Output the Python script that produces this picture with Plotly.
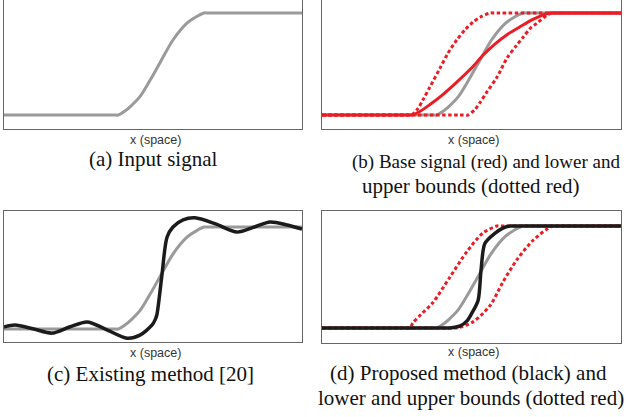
import plotly.graph_objects as go

W, H = 626, 417

# ---- data (x in % of panel width, y normalized: 0 = low level, 1 = high level) ----
input_x = [0, 20, 37, 38.3, 40.6, 42.3, 45.6, 49.0, 52.3, 56.7, 61.4, 64.4, 67.1, 68.5, 85, 100]
input_y = [0, 0, 0, 0.0, 0.04, 0.08, 0.18, 0.34, 0.51, 0.735, 0.90, 0.96, 1.0, 1.0, 1.0, 1.0]

base_x = [0, 15, 29, 30, 33, 36, 40, 45, 50, 54, 58, 62, 66, 70, 73, 76, 77.5, 90, 100]
base_y = [0, 0, 0, 0, 0.04, 0.10, 0.19, 0.32, 0.46, 0.59, 0.70, 0.79, 0.86, 0.93, 0.97, 1.0, 1.0, 1.0, 1.0]

b_lower_x = [0, 15, 29, 30, 32, 33.8, 36, 39.5, 42, 45.2, 48, 50.5, 53, 56.2, 57.5, 80, 100]
b_lower_y = [0, 0, 0, 0, 0.06, 0.15, 0.27, 0.46, 0.60, 0.74, 0.84, 0.91, 0.96, 1.0, 1.0, 1.0, 1.0]

b_upper_x = [0, 25, 47.5, 48.8, 51, 52.8, 55, 58.5, 61.9, 65, 67.2, 70, 71.9, 75.3, 77, 78.5, 90, 100]
b_upper_y = [0, 0, 0, 0, 0.05, 0.12, 0.22, 0.37, 0.56, 0.68, 0.76, 0.86, 0.90, 0.98, 1.0, 1.0, 1.0, 1.0]

existing_x = [0, 3.7, 10, 16.1, 22, 27.9, 34, 41.3, 45.6, 49.7, 50.7, 51.3, 53.0, 54.7,
              56.7, 60.1, 64.1, 71, 78.2, 84, 89.3, 95, 100]
existing_y = [0.02, 0.04, 0.0, -0.04, 0.02, 0.07, 0.0, -0.09, -0.06, 0.04, 0.09, 0.14, 0.53, 0.90,
              1.0, 1.07, 1.09, 1.03, 0.95, 1.0, 1.05, 1.02, 0.98]

d_lower_x = [0, 15, 28.2, 29.4, 30.4, 33, 37.1, 42.8, 48.5, 53.8, 58.5, 60, 80, 100]
d_lower_y = [0, 0, 0, 0, 0.05, 0.13, 0.25, 0.50, 0.75, 0.93, 1.0, 1.0, 1.0, 1.0]

d_upper_x = [0, 25, 44, 45.2, 50.5, 56.2, 60.5, 65.2, 70.6, 75.3, 77.3, 78.8, 90, 100]
d_upper_y = [0, 0, 0, 0, 0.06, 0.22, 0.45, 0.67, 0.86, 0.97, 1.0, 1.0, 1.0, 1.0]

proposed_x = [0, 20, 41.5, 42.8, 46.2, 48.5, 50.2, 52.2, 53.2, 54.5, 57.9, 60.5, 62.9, 64.5, 80, 100]
proposed_y = [0, 0, 0, 0, 0.02, 0.07, 0.15, 0.27, 0.57, 0.83, 0.93, 0.98, 1.0, 1.0, 1.0, 1.0]

axis_label = "x (space)"
captions = {
    "a": ["(a) Input signal"],
    "b": ["(b) Base signal (red) and lower and", "upper bounds (dotted red)"],
    "c": ["(c) Existing method [20]"],
    "d": ["(d) Proposed method (black) and", "lower and upper bounds (dotted red)"],
}

# ---- styles ----
GRAY = "#9a9a9a"
RED = "#ec1c24"
BLACK = "#1b1b1b"
BOX = "#666666"

def px_x(p):
    return p / W

def px_y(p):
    return 1 - p / H

# panel boxes in pixels: (left, right, top, bottom, yrange, draw top line)
panels = {
    "a": (4, 302, 0, 129, [-0.137, 1.127], False),
    "b": (322, 621, 0, 129, [-0.137, 1.127], False),
    "c": (4, 302, 211, 342, [-0.127, 1.157], True),
    "d": (322, 621, 211, 343, [-0.147, 1.147], True),
}

fig = go.Figure()
layout = dict(width=W, height=H, margin=dict(l=0, r=0, t=0, b=0),
              paper_bgcolor="white", plot_bgcolor="white", showlegend=False)

for i, (k, (l, r, t, b, yr, top)) in enumerate(panels.items(), start=1):
    xa = "xaxis" if i == 1 else f"xaxis{i}"
    ya = "yaxis" if i == 1 else f"yaxis{i}"
    layout[xa] = dict(domain=[px_x(l), px_x(r)], range=[0, 100], showgrid=False,
                      zeroline=False, showticklabels=False, ticks="", showline=True,
                      linecolor=BOX, linewidth=1, mirror=top,
                      anchor=f"y{i if i > 1 else ''}")
    layout[ya] = dict(domain=[px_y(b), min(1, px_y(t))], range=yr, showgrid=False,
                      zeroline=False, showticklabels=False, ticks="", showline=True,
                      linecolor=BOX, linewidth=1, mirror=True,
                      anchor=f"x{i if i > 1 else ''}")

def add(xs, ys, color, width, idx, dash="solid"):
    sfx = "" if idx == 1 else str(idx)
    fig.add_trace(go.Scatter(x=xs, y=ys, mode="lines",
                             line=dict(color=color, width=width, dash=dash,
                                       shape="spline", smoothing=0.8),
                             xaxis="x" + sfx, yaxis="y" + sfx, hoverinfo="skip"))

DOT = "3.5px,2.5px"
# (a)
add(input_x, input_y, GRAY, 3, 1)
# (b)
add(input_x, input_y, GRAY, 3, 2)
add(b_lower_x, b_lower_y, RED, 3, 2, DOT)
add(b_upper_x, b_upper_y, RED, 3, 2, DOT)
add(base_x, base_y, RED, 3, 2)
# (c)
add(input_x, input_y, GRAY, 3, 3)
add(existing_x, existing_y, BLACK, 3.5, 3)
# (d)
add(input_x, input_y, GRAY, 3, 4)
add(d_lower_x, d_lower_y, RED, 3, 4, DOT)
add(d_upper_x, d_upper_y, RED, 3, 4, DOT)
add(proposed_x, proposed_y, BLACK, 3.5, 4)

ann = []
label_pos = {"a": (155, 140), "b": (473, 140), "c": (155, 353), "d": (473, 352)}
for k, (x, y) in label_pos.items():
    ann.append(dict(text=axis_label, x=px_x(x), y=px_y(y), xref="paper", yref="paper",
                    xanchor="center", yanchor="middle", showarrow=False,
                    font=dict(family="Liberation Sans, Arial, sans-serif", size=12.5, color="#333333")))

cap_pos = {"a": [(153, 159, 21)], "b": [(486, 162, 19), (471, 186, 21)],
           "c": [(150, 374, 21)], "d": [(468, 373, 21), (471, 398, 21)]}
for k, lines in captions.items():
    for txt, (x, y, fs) in zip(lines, cap_pos[k]):
        ann.append(dict(text=txt, x=px_x(x), y=px_y(y), xref="paper", yref="paper",
                        xanchor="center", yanchor="middle", showarrow=False,
                        font=dict(family="Liberation Serif, Times New Roman, serif", size=fs, color="#111111")))

layout["annotations"] = ann
fig.update_layout(**layout)
fig.write_html("out.html", config={"displayModeBar": False},
               post_script="document.body.style.margin='0px';document.body.style.padding='0px';")
